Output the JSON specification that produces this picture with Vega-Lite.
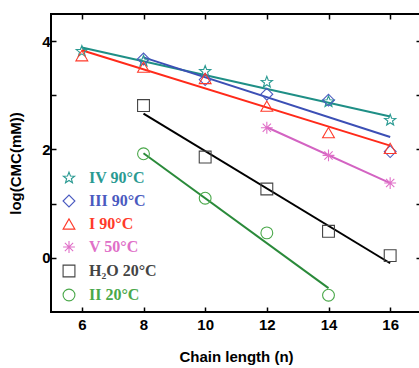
{
  "$schema": "https://vega.github.io/schema/vega-lite/v6.json",
  "autosize": "none",
  "width": 370,
  "height": 298,
  "padding": {"left": 51, "top": 14, "right": 0, "bottom": 56},
  "background": "white",
  "config": {
    "view": {"stroke": "black", "strokeWidth": 2},
    "axis": {"domain": false, "grid": false, "tickColor": "black", "tickWidth": 1.5, "tickSize": -5,
      "labelFont": "Liberation Sans", "labelFontWeight": "bold", "labelFontSize": 15, "labelColor": "black",
      "titleFont": "Liberation Sans", "titleFontWeight": "bold", "titleFontSize": 15, "titleColor": "black"}
  },
  "layer": [
    {
      "data": {"values": [
        {"series": "IV 90°C", "chain": 6, "logcmc": 3.88},
        {"series": "IV 90°C", "chain": 16, "logcmc": 2.61},
        {"series": "III 90°C", "chain": 8, "logcmc": 3.70},
        {"series": "III 90°C", "chain": 16, "logcmc": 2.23},
        {"series": "I 90°C", "chain": 6, "logcmc": 3.83},
        {"series": "I 90°C", "chain": 16, "logcmc": 2.07},
        {"series": "V 50°C", "chain": 12, "logcmc": 2.41},
        {"series": "V 50°C", "chain": 16, "logcmc": 1.38},
        {"series": "H₂O 20°C", "chain": 8, "logcmc": 2.66},
        {"series": "H₂O 20°C", "chain": 16, "logcmc": -0.10},
        {"series": "II 20°C", "chain": 8, "logcmc": 1.93},
        {"series": "II 20°C", "chain": 14, "logcmc": -0.56}
      ]},
      "encoding": {
        "x": {"field": "chain", "type": "quantitative", "scale": {"domain": [5, 17], "nice": false, "zero": false},
          "axis": {"orient": "top", "values": [6, 8, 10, 12, 14, 16], "labels": false, "title": null}},
        "y": {"field": "logcmc", "type": "quantitative", "scale": {"domain": [-1, 4.5], "nice": false, "zero": false},
          "axis": {"orient": "right", "values": [0, 1, 2, 3, 4], "labels": false, "title": null}}
      },
      "layer": [
        {"transform": [{"filter": "datum.series == 'IV 90°C'"}], "mark": {"type": "line", "strokeWidth": 2, "color": "#1f8f86"}},
        {"transform": [{"filter": "datum.series == 'III 90°C'"}], "mark": {"type": "line", "strokeWidth": 2, "color": "#3c4fb5"}},
        {"transform": [{"filter": "datum.series == 'I 90°C'"}], "mark": {"type": "line", "strokeWidth": 2, "color": "#ff2a1a"}},
        {"transform": [{"filter": "datum.series == 'V 50°C'"}], "mark": {"type": "line", "strokeWidth": 2, "color": "#d363c2"}},
        {"transform": [{"filter": "datum.series == 'H₂O 20°C'"}], "mark": {"type": "line", "strokeWidth": 2, "color": "#000000"}},
        {"transform": [{"filter": "datum.series == 'II 20°C'"}], "mark": {"type": "line", "strokeWidth": 2, "color": "#2a8a3a"}}
      ]
    },
    {
      "data": {"values": [
        {"series": "IV 90°C", "chain": 6, "logcmc": 3.81},
        {"series": "IV 90°C", "chain": 8, "logcmc": 3.63},
        {"series": "IV 90°C", "chain": 10, "logcmc": 3.44},
        {"series": "IV 90°C", "chain": 12, "logcmc": 3.24},
        {"series": "IV 90°C", "chain": 14, "logcmc": 2.88},
        {"series": "IV 90°C", "chain": 16, "logcmc": 2.54},
        {"series": "III 90°C", "chain": 8, "logcmc": 3.67},
        {"series": "III 90°C", "chain": 10, "logcmc": 3.29},
        {"series": "III 90°C", "chain": 12, "logcmc": 3.02},
        {"series": "III 90°C", "chain": 14, "logcmc": 2.91},
        {"series": "III 90°C", "chain": 16, "logcmc": 1.96},
        {"series": "I 90°C", "chain": 6, "logcmc": 3.73},
        {"series": "I 90°C", "chain": 8, "logcmc": 3.52},
        {"series": "I 90°C", "chain": 10, "logcmc": 3.31},
        {"series": "I 90°C", "chain": 12, "logcmc": 2.80},
        {"series": "I 90°C", "chain": 14, "logcmc": 2.31},
        {"series": "I 90°C", "chain": 16, "logcmc": 2.02},
        {"series": "V 50°C", "chain": 12, "logcmc": 2.40},
        {"series": "V 50°C", "chain": 14, "logcmc": 1.89},
        {"series": "V 50°C", "chain": 16, "logcmc": 1.38},
        {"series": "H₂O 20°C", "chain": 8, "logcmc": 2.81},
        {"series": "H₂O 20°C", "chain": 10, "logcmc": 1.86},
        {"series": "H₂O 20°C", "chain": 12, "logcmc": 1.27},
        {"series": "H₂O 20°C", "chain": 14, "logcmc": 0.49},
        {"series": "H₂O 20°C", "chain": 16, "logcmc": 0.04},
        {"series": "II 20°C", "chain": 8, "logcmc": 1.92},
        {"series": "II 20°C", "chain": 10, "logcmc": 1.10},
        {"series": "II 20°C", "chain": 12, "logcmc": 0.46},
        {"series": "II 20°C", "chain": 14, "logcmc": -0.69}
      ]},
      "mark": {"type": "point", "filled": false, "strokeWidth": 1.1, "size": 140, "opacity": 1},
      "encoding": {
        "x": {"field": "chain", "type": "quantitative",
          "axis": {"orient": "bottom", "values": [6, 8, 10, 12, 14, 16], "labelPadding": 10, "title": "Chain length (n)", "titlePadding": 17}},
        "y": {"field": "logcmc", "type": "quantitative",
          "axis": {"orient": "left", "values": [0, 1, 2, 3, 4], "format": "d", "labelExpr": "datum.value % 2 == 0 ? datum.label : ''", "labelPadding": 6, "title": "log(CMC(mM))", "titlePadding": 18}},
        "color": {"field": "series", "type": "nominal",
          "scale": {"domain": ["IV 90°C", "III 90°C", "I 90°C", "V 50°C", "H₂O 20°C", "II 20°C"],
            "range": ["#2a9a92", "#4a5ac0", "#ff3a2a", "#e070c8", "#444444", "#4aa84a"]},
          "legend": {"orient": "none", "legendX": 10, "legendY": 156, "title": null, "padding": 0,
            "labelFont": "Liberation Serif", "labelFontWeight": "bold", "labelFontSize": 16,
            "labelColor": {"expr": "scale('color', datum.value)"},
            "labelOffset": 12, "rowPadding": 6, "symbolSize": 140, "symbolStrokeWidth": 1.1}},
        "shape": {"field": "series", "type": "nominal",
          "scale": {"domain": ["IV 90°C", "III 90°C", "I 90°C", "V 50°C", "H₂O 20°C", "II 20°C"],
            "range": ["M0,-1L0.247,-0.34L0.951,-0.309L0.399,0.13L0.588,0.809L0,0.42L-0.588,0.809L-0.399,0.13L-0.951,-0.309L-0.247,-0.34Z", "diamond", "triangle-up", "M0,-1L0,1M-1,0L1,0M-0.7,-0.7L0.7,0.7M-0.7,0.7L0.7,-0.7", "square", "circle"]}}
      }
    }
  ],
  "resolve": {"axis": {"x": "independent", "y": "independent"}}
}
